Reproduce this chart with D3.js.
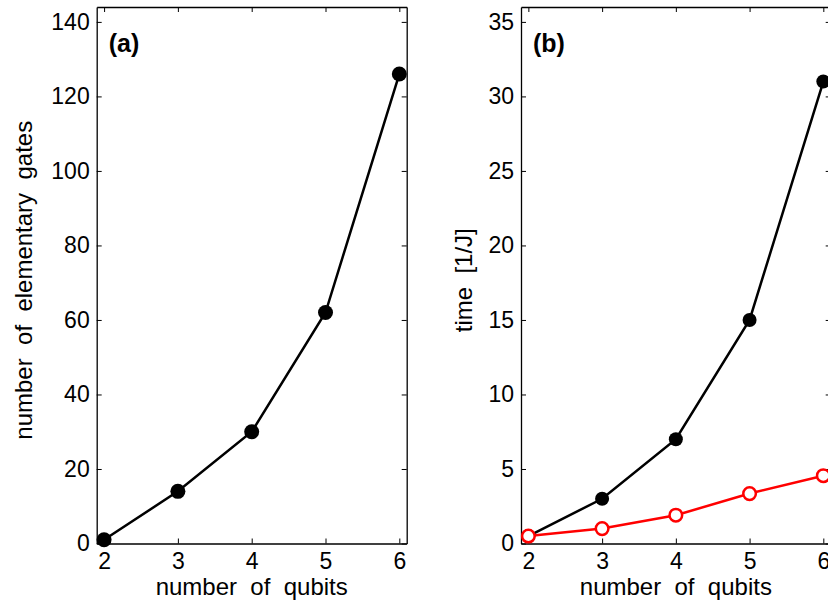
<!DOCTYPE html>
<html>
<head>
<meta charset="utf-8">
<script src="https://cdn.jsdelivr.net/npm/d3@7"></script>
<style>
  body { margin: 0; background: #fff; }
  svg { display: block; }
  text { font-family: "Liberation Sans", Arial, sans-serif; fill: #000; }
</style>
</head>
<body>
<svg id="chart" width="828" height="606"></svg>
<script>
// number of qubits
const qubits = [2, 3, 4, 5, 6];
// panel (a): number of elementary gates
const gates = [1, 14, 30, 62, 126];
// panel (b): time in units of 1/J
const timeBlack = [0.5, 3, 7, 15, 31];
const timeRed = [0.5, 1.0, 1.9, 3.35, 4.55];

const xTicks = [2, 3, 4, 5, 6];
const yTicksA = [0, 20, 40, 60, 80, 100, 120, 140];
const yTicksB = [0, 5, 10, 15, 20, 25, 30, 35];

const svg = d3.select("#chart");

const plotTop = 7, plotBottom = 543.5, tickLen = 5;

function panel(opts) {
    const g = svg.append("g");

    const x = d3.scaleLinear().domain([1.9, 6.1]).range([opts.left, opts.right]);
    const y = d3.scaleLinear().domain([0, opts.ymax]).range([plotBottom, plotTop]);

    const styleAxis = (sel) => {
        sel.selectAll("path.domain").attr("stroke", "#000").attr("stroke-width", 1.3).attr("fill", "none");
        sel.selectAll(".tick line").attr("stroke", "#000").attr("stroke-width", 1);
        sel.selectAll(".tick text").style("font-size", "23px").attr("fill", "#000");
    };

    g.append("g")
        .attr("transform", `translate(0,${plotBottom})`)
        .call(d3.axisBottom(x).tickValues(xTicks).tickFormat(d3.format("d"))
            .tickSize(-tickLen).tickSizeOuter(0).tickPadding(9))
        .call(styleAxis);

    g.append("g")
        .attr("transform", `translate(0,${plotTop})`)
        .call(d3.axisTop(x).tickValues(xTicks).tickSize(-tickLen).tickSizeOuter(0).tickFormat(""))
        .call(styleAxis);

    g.append("g")
        .attr("transform", `translate(${opts.left},0)`)
        .call(d3.axisLeft(y).tickValues(opts.yTicks).tickFormat(d3.format("d"))
            .tickSize(-tickLen).tickSizeOuter(0).tickPadding(7))
        .call(styleAxis);

    g.append("g")
        .attr("transform", `translate(${opts.right},0)`)
        .call(d3.axisRight(y).tickValues(opts.yTicks).tickSize(-tickLen).tickSizeOuter(0).tickFormat(""))
        .call(styleAxis);

    opts.series.forEach((s) => {
        const line = d3.line().x((d, i) => x(qubits[i])).y((d) => y(d));
        g.append("path")
            .datum(s.values)
            .attr("d", line)
            .attr("fill", "none")
            .attr("stroke", s.color)
            .attr("stroke-width", 2.5);
    });

    opts.series.forEach((s) => {
        g.selectAll(null)
            .data(s.values)
            .enter().append("circle")
            .attr("cx", (d, i) => x(qubits[i]))
            .attr("cy", (d) => y(d))
            .attr("r", s.open ? 6.3 : s.r)
            .attr("fill", s.open ? "#fff" : s.color)
            .attr("stroke", s.open ? s.color : "none")
            .attr("stroke-width", 2.5);
    });

    g.append("text")
        .attr("x", opts.left + 12)
        .attr("y", 51.5)
        .style("font-size", "25px")
        .style("font-weight", "bold")
        .text(opts.tag);

    g.append("text")
        .attr("x", (opts.left + opts.right) / 2)
        .attr("y", 595)
        .attr("text-anchor", "middle")
        .style("font-size", "24px")
        .style("white-space", "pre")
        .text("number  of  qubits");

    g.append("text")
        .attr("transform", `translate(${opts.ylabelX},${(plotTop + plotBottom) / 2 + 5}) rotate(-90)`)
        .attr("text-anchor", "middle")
        .style("font-size", "24px")
        .style("white-space", "pre")
        .text(opts.ylabel);
}

panel({
    left: 96.7, right: 406.7, ymax: 144, yTicks: yTicksA, tag: "(a)",
    ylabel: "number  of  elementary  gates", ylabelX: 31.5,
    series: [{ values: gates, color: "#000", r: 7.5 }]
});

panel({
    left: 521, right: 830.7, ymax: 36, yTicks: yTicksB, tag: "(b)",
    ylabel: "time  [1/J]", ylabelX: 471.5,
    series: [
        { values: timeBlack, color: "#000", r: 7 },
        { values: timeRed, color: "#ff0000", open: true }
    ]
});
</script>
</body>
</html>
